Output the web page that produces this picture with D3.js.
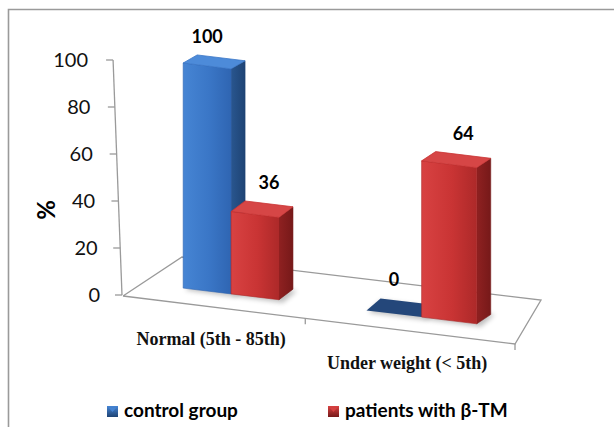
<!DOCTYPE html>
<html>
<head>
<meta charset="utf-8">
<script src="https://cdn.jsdelivr.net/npm/d3@7"></script>
<style>
  html, body { margin: 0; padding: 0; background: #fff; }
  svg { display: block; }
</style>
</head>
<body>
<svg id="chart" width="614" height="427"></svg>
<script>
// ---- data ----
const categories = ["Normal (5th - 85th)", "Under weight (< 5th)"];
const seriesNames = ["control group", "patients with β-TM"];
const controlValues = [100, 0];
const patientValues = [36, 64];
const yTicks = [0, 20, 40, 60, 80, 100];

const seriesValues = [controlValues, patientValues];

const svg = d3.select("#chart");
const W = 614, H = 427;

// ---- palette ----
const pal = [
  { front: ["#4685d4", "#3a76c6", "#2f65b2"], side: ["#29568f", "#1e4374"], top: "#4d8bd9", flat: "#24477a" },
  { front: ["#d84242", "#c93434", "#ad2929"], side: ["#8f2121", "#761919"], top: "#d64646", flat: "#8f2121" }
];

const defs = svg.append("defs");
pal.forEach((p, i) => {
  const gf = defs.append("linearGradient").attr("id", "front" + i).attr("x1", 0).attr("x2", 1).attr("y1", 0).attr("y2", 0);
  gf.append("stop").attr("offset", 0).attr("stop-color", p.front[0]);
  gf.append("stop").attr("offset", 0.55).attr("stop-color", p.front[1]);
  gf.append("stop").attr("offset", 1).attr("stop-color", p.front[2]);
  const gs = defs.append("linearGradient").attr("id", "side" + i).attr("x1", 0).attr("x2", 1).attr("y1", 0).attr("y2", 0);
  gs.append("stop").attr("offset", 0).attr("stop-color", p.side[0]);
  gs.append("stop").attr("offset", 1).attr("stop-color", p.side[1]);
  const gl = defs.append("linearGradient").attr("id", "leg" + i).attr("x1", 0).attr("x2", 0).attr("y1", 0).attr("y2", 1);
  gl.append("stop").attr("offset", 0).attr("stop-color", p.front[0]);
  gl.append("stop").attr("offset", 1).attr("stop-color", p.side[1]);
});
defs.append("filter").attr("id", "soft").attr("x", "-30%").attr("y", "-30%").attr("width", "160%").attr("height", "160%")
  .append("feGaussianBlur").attr("stdDeviation", 2.5);

// ---- frame ----
svg.append("path")
  .attr("d", `M8.5,${H} L8.5,9.5 L${W},9.5`)
  .attr("fill", "none").attr("stroke", "#9a9a9a").attr("stroke-width", 1.6);

// ---- floor geometry (perspective floor corners) ----
const FL = [123, 296], FR = [515, 344], BL = [182, 257], BR = [541, 300];
const lerp = (a, b, t) => [a[0] + (b[0] - a[0]) * t, a[1] + (b[1] - a[1]) * t];
function floorPt(u, v) {
  return lerp(lerp(FL, FR, u), lerp(BL, BR, u), v);
}

// category position along the floor (with foreshortening toward the right)
const x0 = d3.scaleBand().domain(categories).range([0, 1]);
const x1 = d3.scaleBand().domain(seriesNames).range([0, x0.bandwidth()]).paddingOuter(0.85);
const warp = d3.scaleLinear().domain([0, 0.5, 1]).range([0, 0.465, 1]);

// value scales
const yAxisScale = d3.scaleLinear().domain([0, 100]).range([295, 60]);
const hScale = d3.scaleLinear().domain([0, 100]).range([0, 220]);
const depthV = 0.33;          // bar front position inside the floor
const depthDX = 14;           // bar depth in pixels

// ---- floor outline ----
const floorG = svg.append("g").attr("fill", "none").attr("stroke", "#9a9a9a").attr("stroke-width", 1.3);
floorG.append("path").attr("d", d3.line()([FL, FR, BR, BL, FL]));
// category boundary ticks
[0.5, 1].forEach(t => {
  const p = floorPt(warp(t), 0);
  floorG.append("line").attr("x1", p[0]).attr("y1", p[1]).attr("x2", p[0]).attr("y2", p[1] + 6);
});

// ---- y axis ----
const axisX = y => 122 - (295 - y) * 0.038;
const axisG = svg.append("g");
axisG.append("line")
  .attr("x1", axisX(yAxisScale(100))).attr("y1", yAxisScale(100))
  .attr("x2", axisX(yAxisScale(0))).attr("y2", yAxisScale(0))
  .attr("stroke", "#9a9a9a").attr("stroke-width", 1.3);
yTicks.forEach(t => {
  const y = yAxisScale(t), xa = axisX(y);
  axisG.append("line").attr("x1", xa - 7).attr("x2", xa).attr("y1", y).attr("y2", y)
    .attr("stroke", "#9a9a9a").attr("stroke-width", 1.3);
  axisG.append("text")
    .attr("x", 100 - (295 - y) * 0.051).attr("y", y + 7)
    .attr("text-anchor", "end")
    .attr("font-family", "Lato, 'Open Sans', sans-serif").attr("font-size", 20)
    .attr("fill", "#111").text(t);
});
svg.append("text")
  .attr("transform", "translate(55,210) rotate(-90)")
  .attr("text-anchor", "middle")
  .attr("font-family", "Lato, 'Open Sans', sans-serif").attr("font-weight", 700).attr("font-size", 24)
  .attr("fill", "#000").text("%");

// ---- bars ----
const barsG = svg.append("g");
const labelShift = [0, 14];
const bars = [];
categories.forEach((c, ci) => {
  seriesNames.forEach((s, si) => {
    const a = x0(c) + x1(s), b = a + x1.bandwidth();
    bars.push({ ci, si, value: seriesValues[si][ci], ua: warp(a), ub: warp(b) });
  });
});

bars.forEach(d => {
  const p0 = floorPt(d.ua, depthV), p1 = floorPt(d.ub, depthV);
  const um = (d.ua + d.ub) / 2;
  const hpx = hScale(d.value) * (1 + 0.136 * um);
  const dy = -12 + hpx * 0.0175;
  const t0 = [p0[0], p0[1] - hpx], t1 = [p1[0], p1[1] - hpx];
  const off = p => [p[0] + depthDX, p[1] + dy];
  const line = d3.line();
  const p = pal[d.si];

  // soft floor shadow
  barsG.append("path")
    .attr("d", line([[p0[0] + 2, p0[1] + 2], [p1[0] + 4, p1[1] + 3], [p1[0] + depthDX + 4, p1[1] - 9], [p0[0] + depthDX, p0[1] - 10]]) + "Z")
    .attr("fill", "#000").attr("opacity", 0.25).attr("filter", "url(#soft)");

  if (hpx > 0.5) {
    // right side face
    barsG.append("path").attr("d", line([p1, off(p1), off(t1), t1]) + "Z")
      .attr("fill", `url(#side${d.si})`).attr("stroke", p.side[1]).attr("stroke-width", 0.6).attr("stroke-linejoin", "round");
    // front face
    barsG.append("path").attr("d", line([p0, p1, t1, t0]) + "Z")
      .attr("fill", `url(#front${d.si})`).attr("stroke", p.front[2]).attr("stroke-width", 0.6).attr("stroke-linejoin", "round");
    // top face
    barsG.append("path").attr("d", line([t0, t1, off(t1), off(t0)]) + "Z")
      .attr("fill", p.top).attr("stroke", p.front[1]).attr("stroke-width", 0.8).attr("stroke-linejoin", "round");
  } else {
    // zero-height bar: flat cap on the floor
    barsG.append("path").attr("d", line([t0, t1, off(t1), off(t0)]) + "Z")
      .attr("fill", p.flat);
  }

  // value label
  barsG.append("text")
    .attr("x", (t0[0] + t1[0]) / 2 + labelShift[d.si])
    .attr("y", Math.min(t0[1], t1[1]) + dy - 12)
    .attr("text-anchor", "middle")
    .attr("font-family", "Lato, 'Open Sans', sans-serif").attr("font-weight", 700).attr("font-size", 18)
    .attr("fill", "#000").text(d.value);
});

// ---- category labels ----
categories.forEach(c => {
  const p = floorPt(warp(x0(c) + x0.bandwidth() / 2), 0);
  svg.append("text")
    .attr("x", p[0] - 3).attr("y", p[1] + 38)
    .attr("text-anchor", "middle")
    .attr("font-family", "'Liberation Serif', 'Times New Roman', serif").attr("font-weight", 700).attr("font-size", 18)
    .attr("fill", "#111").text(c);
});

// ---- legend ----
const legendX = [107, 328];
seriesNames.forEach((s, i) => {
  const g = svg.append("g").attr("transform", `translate(${legendX[i]},406)`);
  g.append("rect").attr("width", 11).attr("height", 11).attr("fill", `url(#leg${i})`);
  g.append("path").attr("d", "M1.5,1.5 L9.5,1.5 L5.5,6 Z").attr("fill", pal[i].front[0]).attr("opacity", 0.9);
  g.append("text")
    .attr("x", 17).attr("y", 11)
    .attr("font-family", "Lato, 'Open Sans', sans-serif").attr("font-weight", 700).attr("font-size", 19)
    .attr("fill", "#000").text(s);
});
</script>
</body>
</html>
